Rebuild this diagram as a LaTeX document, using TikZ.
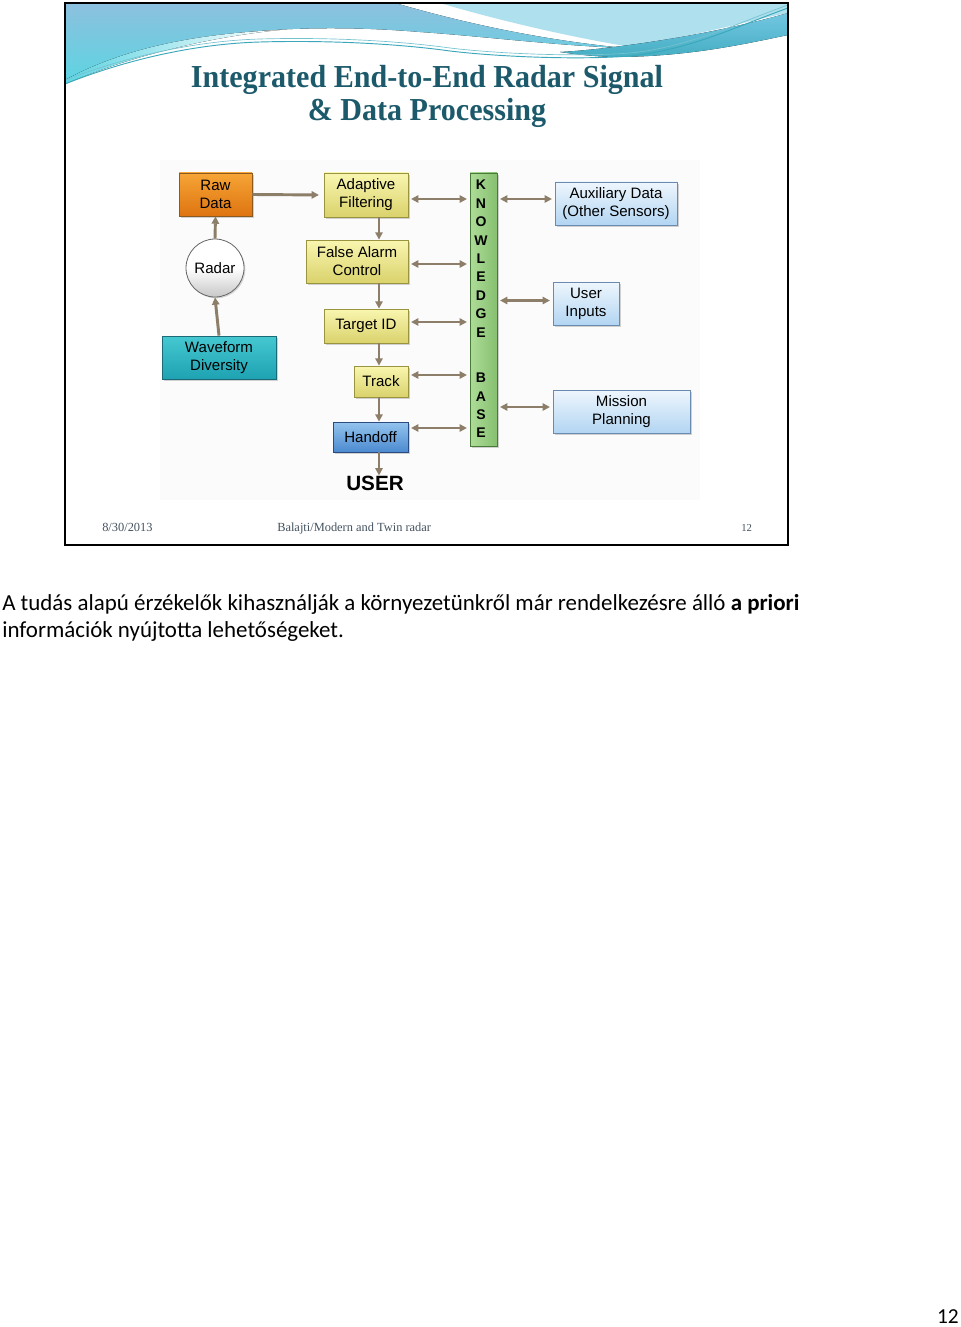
\documentclass[tikz,border=0pt]{standalone}
\usepackage{fontspec}
\setmainfont{Liberation Serif}
\newfontfamily\arialf{Liberation Sans}
\newfontfamily\calibrif{Carlito}
\usetikzlibrary{arrows.meta,shadows,calc}
\definecolor{arrc}{HTML}{8C7E68}
\definecolor{titlec}{HTML}{1C5A6B}
\definecolor{footc}{HTML}{44525F}
\definecolor{orT}{HTML}{F6A536}\definecolor{orB}{HTML}{DE7410}\definecolor{orD}{HTML}{8A5A20}
\definecolor{tlT}{HTML}{45C8D0}\definecolor{tlB}{HTML}{1EA2B2}\definecolor{tlD}{HTML}{1A6A78}
\definecolor{yeT}{HTML}{F9F6B0}\definecolor{yeB}{HTML}{DAD26C}\definecolor{yeD}{HTML}{9A9440}
\definecolor{hbT}{HTML}{94C4EE}\definecolor{hbB}{HTML}{4C8AD0}\definecolor{hbD}{HTML}{2A4A80}
\definecolor{lbT}{HTML}{EEF6FD}\definecolor{lbB}{HTML}{B2D5F2}\definecolor{lbD}{HTML}{6A8AB0}
\definecolor{grL}{HTML}{AEDC98}\definecolor{grR}{HTML}{86C070}\definecolor{grD}{HTML}{4A7A3A}
\definecolor{bnA}{HTML}{8CC0DE}\definecolor{bnC}{HTML}{5ED4E2}\definecolor{bnL}{HTML}{AEE0EE}
\definecolor{bnM}{HTML}{72C6E2}\definecolor{bnT}{HTML}{3AA8BA}
\tikzset{
  bx/.style={rectangle, inner sep=0pt, align=center, font=\arialf\fontsize{11.3}{13.5}\selectfont,
     drop shadow={opacity=0.35, shadow xshift=1.2pt, shadow yshift=-1.2pt}},
  ybox/.style={bx, draw=yeD, line width=0.6pt, top color=yeT, bottom color=yeB},
  orbox/.style={bx, draw=orD, line width=0.6pt, top color=orT, bottom color=orB},
  tealbox/.style={bx, draw=tlD, line width=0.6pt, top color=tlT, bottom color=tlB},
  bluebox/.style={bx, draw=hbD, line width=0.6pt, top color=hbT, bottom color=hbB},
  lbbox/.style={bx, draw=lbD, line width=0.6pt, top color=lbT, bottom color=lbB},
  kbbox/.style={bx, draw=grD, line width=0.6pt, left color=grL, right color=grR},
  kbl/.style={inner sep=0pt, font=\arialf\bfseries\fontsize{10.5}{11}\selectfont},
  arr/.style={draw=arrc, line width=2.2pt, -{Triangle[length=5.5pt,width=5.5pt]}},
  darr/.style={draw=arrc, line width=2.2pt, {Triangle[length=5.5pt,width=5.5pt]}-{Triangle[length=5.5pt,width=5.5pt]}, shorten <=2pt, shorten >=2pt},
}
\begin{document}
\begin{tikzpicture}[x=0.75pt,y=-0.75pt]
\useasboundingbox (0,0) rectangle (960,1327);
% faint diagram background
\fill[black!1.5] (160,160) rectangle (700,500);
% banner
\fill[top color=bnA, bottom color=bnC] (65,3) -- (395,3) .. controls (460,22) and (540,40) .. (625,48) .. controls (560,46) and (480,36) .. (420,32) .. controls (300,22) and (160,30) .. (65,80) -- cycle;
\fill[left color=bnC, right color=white] (65,80) .. controls (120,50) and (190,34) .. (280,30) .. controls (200,38) and (120,60) .. (65,84) -- cycle;
\fill[bnL] (440,3) -- (788,3) -- (788,13) .. controls (750,20) and (700,36) .. (625,46) .. controls (560,35) and (490,18) .. (440,3) -- cycle;
\fill[top color=bnM, bottom color=bnT!80!bnM] (560,52) .. controls (600,50) and (700,38) .. (788,13) -- (788,35) .. controls (740,45) and (690,56) .. (620,57) .. controls (600,57) and (580,55) .. (560,52) -- cycle;
\draw[bnT, line width=0.7pt] (65,84) .. controls (120,62) and (190,44) .. (260,42) .. controls (330,40) and (400,44) .. (450,51) .. controls (500,57) and (580,60) .. (630,56) .. controls (690,50) and (740,25) .. (788,8);
\draw[bnT!70!white, line width=0.5pt] (65,80) .. controls (120,59) and (190,41) .. (260,39) .. controls (330,37) and (400,41) .. (450,48) .. controls (500,54) and (580,57) .. (630,53) .. controls (690,47) and (740,22) .. (788,5);
% frame
\draw[line width=1.6pt] (65,3) rectangle (788,545);
% title
\node[text=titlec, font=\bfseries\fontsize{24}{26}\selectfont] (t1) at (427,80) {\scalebox{0.94}[1]{Integrated End-to-End Radar Signal}};
\node[text=titlec, font=\bfseries\fontsize{24}{26}\selectfont] (t2) at (427,113) {\scalebox{0.94}[1]{\& Data Processing}};
% nodes
\node[orbox, minimum width=54.75pt, minimum height=32.25pt] (raw) at (215.5,194.5) {Raw\\Data};
\node[circle, draw=black!60, line width=0.6pt, top color=white, bottom color=black!22, middle color=white, minimum size=43.5pt, inner sep=0pt, font=\arialf\fontsize{11.3}{13}\selectfont, drop shadow={opacity=0.3, shadow xshift=1pt, shadow yshift=-1pt}] (radar) at (215,268) {Radar};
\node[tealbox, minimum width=85.5pt, minimum height=32.25pt] (wave) at (219,357.5) {Waveform\\Diversity};
\node[ybox, minimum width=63pt, minimum height=33pt] (adapt) at (366,195) {Adaptive\\Filtering};
\node[ybox, minimum width=76.5pt, minimum height=32.25pt] (fa) at (357,261.5) {False Alarm\\Control};
\node[ybox, minimum width=63pt, minimum height=25.5pt] (tid) at (366,326) {Target ID};
\node[ybox, minimum width=40.5pt, minimum height=23.25pt] (track) at (381,381.5) {Track};
\node[bluebox, minimum width=56.25pt, minimum height=22.5pt] (hand) at (370.5,437) {Handoff};
\node[inner sep=0pt, font=\arialf\bfseries\fontsize{15.5}{18}\selectfont] (user) at (375,483) {USER};
\node[kbbox, minimum width=20.25pt, minimum height=204.75pt] (kb) at (483.5,309.5) {};
\foreach \l [count=\i] in {K,N,O,W,L,E,D,G,E} {
  \node[kbl] (kbA\i) at (481,{185+(\i-1)*18.4}) {\l};
}
\foreach \l [count=\i] in {B,A,S,E} {
  \node[kbl] (kbB\i) at (481,{378+(\i-1)*18.3}) {\l};
}
\node[lbbox, minimum width=91.5pt, minimum height=32.25pt] (aux) at (616,203.5) {Auxiliary Data\\(Other Sensors)};
\node[lbbox, minimum width=49.5pt, minimum height=32.25pt] (uin) at (586,303.5) {User\\Inputs};
\node[lbbox, minimum width=102.75pt, minimum height=32.25pt] (mis) at (621.5,411.5) {Mission\\Planning};
% connectors
\coordinate (vx) at (379,0);
\draw[arr, shorten >=3.5pt] (raw.east) -- (adapt.west);
\draw[arr] (radar.north) -- (raw.south);
\draw[arr] (wave.north) -- (radar.south);
\draw[arr] (adapt.south -| vx) -- (fa.north -| vx);
\draw[arr] (fa.south -| vx) -- (tid.north -| vx);
\draw[arr] (tid.south -| vx) -- (track.north -| vx);
\draw[arr] (track.south -| vx) -- (hand.north -| vx);
\draw[arr] (hand.south -| vx) -- (user.north -| vx);
\draw[darr] ($(adapt.east)+(0,4)$) -- ($(adapt.east -| kb.west)+(0,4)$);
\draw[darr] ($(fa.east)+(0,2.5)$) -- ($(fa.east -| kb.west)+(0,2.5)$);
\draw[darr] ($(tid.east)+(0,-4)$) -- ($(tid.east -| kb.west)+(0,-4)$);
\draw[darr] ($(track.east)+(0,-6.5)$) -- ($(track.east -| kb.west)+(0,-6.5)$);
\draw[darr] ($(hand.east)+(0,-9)$) -- ($(hand.east -| kb.west)+(0,-9)$);
\draw[darr] ($(kb.east |- aux.west)+(0,-4.5)$) -- ($(aux.west)+(0,-4.5)$);
\draw[darr] ($(kb.east |- uin.west)+(0,-3)$) -- ($(uin.west)+(0,-3)$);
\draw[darr] ($(kb.east |- mis.west)+(0,-4.5)$) -- ($(mis.west)+(0,-4.5)$);
% footer
\node[anchor=base west, inner sep=0pt, text=footc, font=\fontsize{9.3}{10}\selectfont] (date) at (102,531) {8/30/2013};
\node[anchor=base west, inner sep=0pt, text=footc, font=\fontsize{9.3}{10}\selectfont] (auth) at (277,531) {Balajti/Modern and Twin radar};
\node[anchor=base west, inner sep=0pt, text=footc, font=\fontsize{8}{10}\selectfont] (snum) at (741,531) {12};
% caption text
\node[anchor=base west, inner sep=0pt, font=\calibrif\fontsize{17.2}{20}\selectfont] (cap1) at (2,610) {A tudás alapú érzékelők kihasználják a környezetünkről már rendelkezésre álló \textbf{a priori}};
\node[anchor=base west, inner sep=0pt, font=\calibrif\fontsize{17.2}{20}\selectfont] (cap2) at (2,637) {információk nyújtotta lehetőségeket.};
\node[anchor=base east, inner sep=0pt, font=\calibrif\fontsize{16}{18}\selectfont] (pnum) at (959,1323) {12};
\end{tikzpicture}
\end{document}
